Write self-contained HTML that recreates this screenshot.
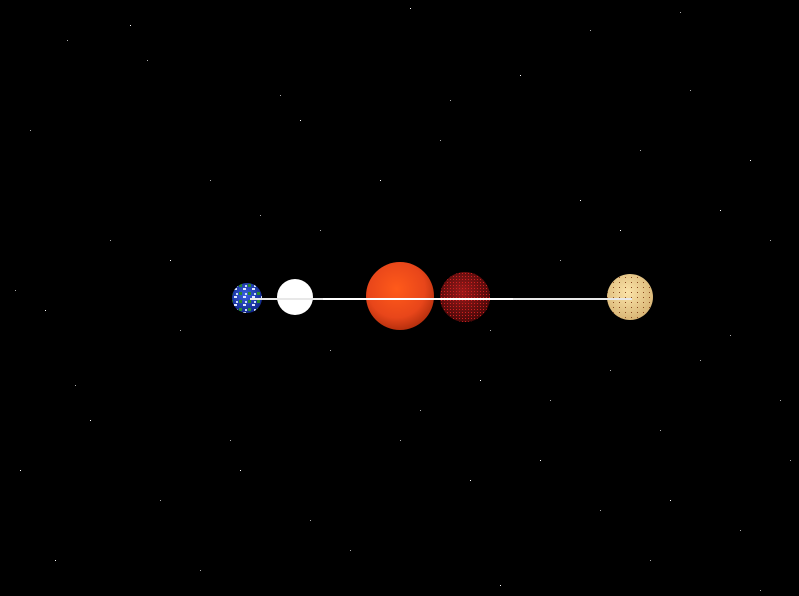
<!DOCTYPE html>
<html><head><meta charset="utf-8"><style>
html,body{margin:0;padding:0;background:#000;width:799px;height:596px;overflow:hidden}
svg{display:block}
</style></head><body>
<svg id="scene" width="799" height="596" viewBox="0 0 799 596">
<defs>
<radialGradient id="gSun" cx="45%" cy="40%" r="60%"><stop offset="0" stop-color="#ff5a1a"/><stop offset="0.7" stop-color="#e8461a"/><stop offset="1" stop-color="#b8300e"/></radialGradient>
<radialGradient id="gRed" cx="45%" cy="40%" r="60%"><stop offset="0" stop-color="#9a1a1a"/><stop offset="1" stop-color="#4a0808"/></radialGradient>
<radialGradient id="gTan" cx="45%" cy="40%" r="60%"><stop offset="0" stop-color="#fbe3a8"/><stop offset="1" stop-color="#d9b676"/></radialGradient>
<radialGradient id="gEarth" cx="45%" cy="40%" r="60%"><stop offset="0" stop-color="#3a5fe0"/><stop offset="1" stop-color="#10288a"/></radialGradient>
<pattern id="pRed" width="3" height="3" patternUnits="userSpaceOnUse"><rect x="0" y="0" width="1" height="1" fill="#d02020"/></pattern>
<pattern id="pTan" width="6" height="5" patternUnits="userSpaceOnUse"><rect x="1" y="2" width="1" height="1" fill="#8a4a20"/></pattern>
<pattern id="pEarth" width="9" height="8" patternUnits="userSpaceOnUse"><rect x="0" y="0" width="3" height="2" fill="#dfe8ff"/><rect x="5" y="4" width="3" height="3" fill="#2a8a2a"/><rect x="2" y="5" width="2" height="2" fill="#c8d8ff"/></pattern>
</defs>
<g id="stars"></g>
<g><circle cx="247" cy="298" r="15" fill="url(#gEarth)"/><circle cx="247" cy="298" r="15" fill="url(#pEarth)"/></g>
<circle cx="295" cy="297" r="18" fill="#fff"/>
<circle cx="400" cy="296" r="34" fill="url(#gSun)"/>
<g><circle cx="465" cy="297" r="25" fill="url(#gRed)"/><circle cx="465" cy="297" r="25" fill="url(#pRed)"/></g>
<g><circle cx="630" cy="297" r="23" fill="url(#gTan)"/><circle cx="630" cy="297" r="23" fill="url(#pTan)"/></g>
<rect x="250" y="298" width="382" height="2" fill="#e8e8e8"/>
<rect x="323" y="298" width="190" height="2" fill="#fff"/>
</svg>
<script>
const starX=[410,67,147,520,590,680,750,30,210,300,450,640,720,110,260,380,560,770,45,180,330,480,610,700,90,230,420,540,660,780,20,160,310,470,600,740,55,200,350,500,650,760,130,280,440,580,690,15,170,320,490,620,730,75,240,400,550,670,790];
const starY=[8,40,60,75,30,12,160,130,180,120,100,150,210,240,215,180,260,240,310,330,350,380,370,360,420,440,410,460,430,400,470,500,520,480,510,530,560,570,550,585,560,590,25,95,140,200,90,290,260,230,330,230,335,385,470,440,400,500,460];
const g=document.getElementById('stars');
for(let i=0;i<starX.length;i++){
  const r=document.createElementNS('http://www.w3.org/2000/svg','rect');
  r.setAttribute('x',starX[i]);r.setAttribute('y',starY[i]);
  r.setAttribute('width',1);r.setAttribute('height',1);
  r.setAttribute('fill',i%3?'#aaa':'#fff');
  
  
  g.appendChild(r);
}
</script>
</body></html>
